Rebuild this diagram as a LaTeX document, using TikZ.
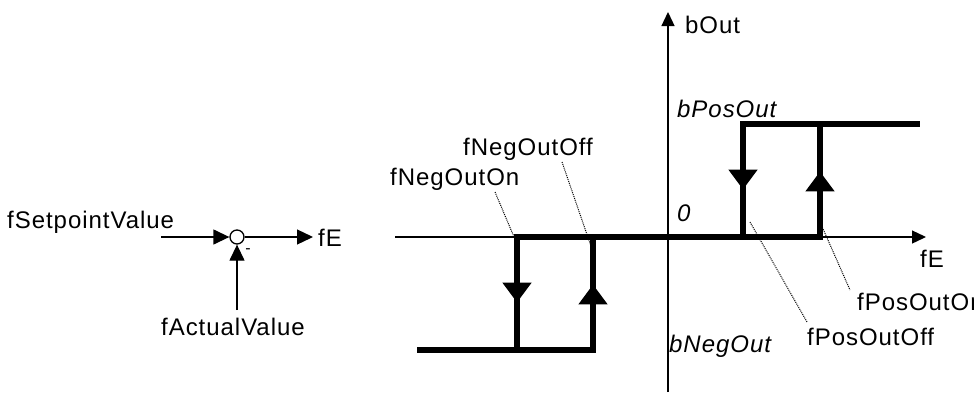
\documentclass[tikz,border=0pt]{standalone}
\usepackage{fontspec}
\setmainfont[LetterSpace=4]{Liberation Sans}
\usetikzlibrary{arrows.meta,decorations.markings}

\tikzset{
  axis/.style={line width=1.3pt, -{Triangle[width=13pt,length=14pt]}},
  signal/.style={line width=1.3pt, -{Triangle[width=15pt,length=16pt]}},
  level/.style={line width=6pt, line cap=rect},
  switch/.style={level, postaction={decorate}, decoration={markings,
      mark=at position 0.58 with {\arrow{Triangle[width=28pt,length=20pt]}}}},
  leader/.style={line width=1pt, densely dotted},
  lbl/.style={anchor=base west, inner sep=0pt, font=\fontsize{24}{28}\selectfont},
  ilbl/.style={lbl, font=\fontsize{24}{28}\selectfont\itshape}
}

\begin{document}
\begin{tikzpicture}[x=1pt, y=-1pt]
      \useasboundingbox (0,0) rectangle (974,392);
      % \draw[help lines, gray!50, very thin] (0,0) grid[step=50] (974,392);

      % summing point
      \node[draw, circle, line width=1.3pt, minimum size=14pt, inner sep=0pt] (sum) at (237,237) {};
      \node[lbl] (setp) at (7,228) {fSetpointValue};
      \node[lbl] (errL) at (318,246) {fE};
      \node[lbl] (act) at (161,335) {fActualValue};
      \node[inner sep=0pt, font=\fontsize{16}{16}\selectfont] (minus) at (248,251) {-};
      \coordinate (spIn) at (161,237);
      \coordinate (actIn) at (237,310);
      \draw[signal] (spIn) -- (sum.west);
      \draw[signal] (sum.east) -- ([xshift=-5pt]errL.west |- sum);
      \draw[signal] (actIn) -- (sum.south);

      % axes
      \coordinate (xStart) at (395,237);
      \coordinate (xEnd) at (926,237);
      \coordinate (yStart) at (668,392);
      \coordinate (yEnd) at (668,12);
      \draw[axis] (xStart) -- (xEnd);
      \draw[axis] (yStart) -- (yEnd);
      \node[lbl] (yLbl) at (685,33) {bOut};
      \node[lbl] (xLbl) at (920,267) {fE};
      \node[ilbl] (posLbl) at (677,117) {bPosOut};
      \node[ilbl] (zeroLbl) at (677,221) {0};
      \node[ilbl] (negLbl) at (669,352) {bNegOut};

      % switching points
      \coordinate (negOn) at (517,237);
      \coordinate (negOff) at (593,237);
      \coordinate (posOff) at (743,237);
      \coordinate (posOn) at (820,237);
      \coordinate (negOnLow) at (517,350);
      \coordinate (negOffLow) at (593,350);
      \coordinate (posOffHigh) at (743,124);
      \coordinate (posOnHigh) at (820,124);

      % hysteresis
      \draw[level] (420,350) -- (negOffLow);
      \draw[level] (negOn) -- (posOn);
      \draw[level] (posOffHigh) -- (917,124);
      \draw[switch] (negOn) -- (negOnLow);
      \draw[switch] (negOffLow) -- (negOff);
      \draw[switch] (posOffHigh) -- (posOff);
      \draw[switch] (posOn) -- (posOnHigh);

      % threshold labels
      \node[lbl] (negOnLbl) at (390,185) {fNegOutOn};
      \node[lbl] (negOffLbl) at (463,155) {fNegOutOff};
      \node[lbl] (posOnLbl) at (857,310) {fPosOutOn};
      \node[lbl] (posOffLbl) at (807,345) {fPosOutOff};
      \draw[leader] (495,192) -- ([yshift=-7pt]negOn);
      \draw[leader] (562,162) -- ([yshift=-15pt]negOff);
      \draw[leader] ([yshift=15pt]posOff) ++(7,0) -- (807,322);
      \draw[leader] ([yshift=15pt]posOn) -- (850,290);
    \end{tikzpicture}
\end{document}
